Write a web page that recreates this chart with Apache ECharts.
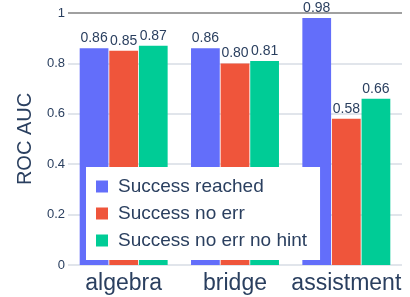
<!DOCTYPE html>
<html>
<head>
<meta charset="utf-8">
<style>
  html, body { margin: 0; padding: 0; background: #fff; }
  #chart { width: 410px; height: 297px; }
</style>
<script src="https://cdn.jsdelivr.net/npm/echarts@6/dist/echarts.min.js"></script>
</head>
<body>
<div id="chart"></div>
<script>
const CATEGORIES = ['algebra', 'bridge', 'assistment'];
const SUCCESS_REACHED = [0.86, 0.86, 0.98];
const SUCCESS_NO_ERR = [0.85, 0.80, 0.58];
const SUCCESS_NO_ERR_NO_HINT = [0.87, 0.81, 0.66];

const TEXT = '#2a3f5f';
const FONT = 'Liberation Sans, Arial, sans-serif';

function makeSeries(name, data, color) {
	return {
		name: name,
		type: 'bar',
		data: data,
		barGap: '3%',
		barCategoryGap: '21%',
		itemStyle: { color: color },
		label: {
			show: true,
			position: 'top',
			distance: 3,
			color: TEXT,
			fontFamily: FONT,
			fontSize: 14,
			formatter: p => p.value.toFixed(2)
		}
	};
}

const chart = echarts.init(document.getElementById('chart'));
chart.setOption({
	animation: false,
	textStyle: { fontFamily: FONT },
	grid: { left: 68, right: 8, top: 13, bottom: 32 },
	legend: {
		orient: 'vertical',
		left: 86,
		bottom: 37,
		backgroundColor: '#fff',
		padding: [9, 13, 9, 10],
		itemWidth: 12,
		itemHeight: 12,
		itemGap: 6,
		icon: 'rect',
		z: 10,
		textStyle: { color: TEXT, fontSize: 19, lineHeight: 21, padding: [0, 0, 0, 5] },
		data: ['Success reached', 'Success no err', 'Success no err no hint']
	},
	xAxis: {
		type: 'category',
		data: CATEGORIES,
		axisLine: { show: false },
		axisTick: { show: false },
		axisLabel: { color: TEXT, fontSize: 23, margin: 7, interval: 0 }
	},
	yAxis: {
		type: 'value',
		min: 0,
		max: 1,
		interval: 0.2,
		name: 'ROC AUC',
		nameLocation: 'middle',
		nameRotate: 90,
		nameGap: 33,
		nameTextStyle: { color: TEXT, fontSize: 20 },
		axisLabel: { color: TEXT, fontSize: 13, margin: 3 },
		splitLine: {
			lineStyle: {
				color: ['#e1e5eb', '#e1e5eb', '#e1e5eb', '#e1e5eb', '#e1e5eb', '#a0a0a0'],
				width: 2
			}
		}
	},
	series: [
		makeSeries('Success reached', SUCCESS_REACHED, '#636efa'),
		makeSeries('Success no err', SUCCESS_NO_ERR, '#ef553b'),
		makeSeries('Success no err no hint', SUCCESS_NO_ERR_NO_HINT, '#00cc96')
	]
});
</script>
</body>
</html>
